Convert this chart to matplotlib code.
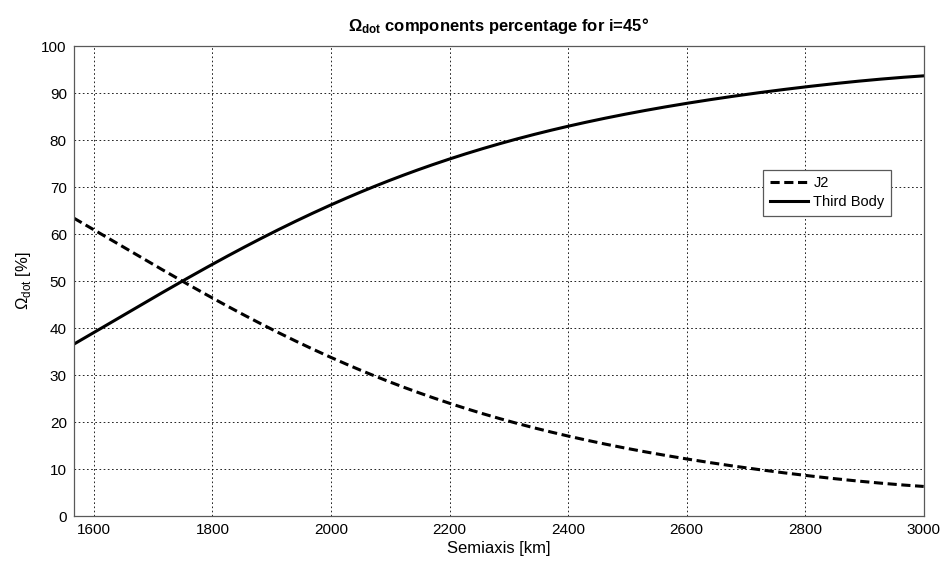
import numpy as np
import matplotlib
matplotlib.use("Agg")
import matplotlib.pyplot as plt

plt.rcParams['font.family'] = ['Liberation Sans', 'DejaVu Sans']
plt.rcParams['mathtext.fontset'] = 'custom'
plt.rcParams['mathtext.rm'] = 'Liberation Sans'
plt.rcParams['mathtext.bf'] = 'Liberation Sans:bold'

# semiaxis [km] and percentage
semiaxis = [1566, 1650, 1700, 1750, 1800, 1900, 2000, 2100, 2200, 2300, 2400,
            2500, 2600, 2700, 2800, 2900, 3000]
third_body = [36.7, 42.6, 46.4, 50.0, 53.6, 60.4, 66.4, 71.4, 75.8, 79.6, 83.0,
              85.7, 87.9, 89.7, 91.2, 92.6, 93.7]
j2 = [100 - v for v in third_body]

x_ticks = [1600, 1800, 2000, 2200, 2400, 2600, 2800, 3000]
y_ticks = list(range(0, 101, 10))

fig = plt.figure(figsize=(9.44, 5.61), dpi=100)
ax = fig.add_axes([0.0781, 0.0797, 0.9004, 0.8383])

# smooth curve through the read points
xs = np.linspace(semiaxis[0], semiaxis[-1], 300)
tb_s = np.polyval(np.polyfit(semiaxis, third_body, 5), xs)
j2_s = np.polyval(np.polyfit(semiaxis, j2, 5), xs)

ax.plot(xs, j2_s, 'k--', lw=2.2, dashes=(3, 1.5), label='J2')
ax.plot(xs, tb_s, 'k-', lw=2.2, label='Third Body')

ax.set_xlim(semiaxis[0], 3000)
ax.set_ylim(0, 100)
ax.set_xticks(x_ticks)
ax.set_yticks(y_ticks)
ax.tick_params(direction='in', labelsize=11, length=0, pad=5)
ax.grid(True, color='black', linestyle=(0, (2, 3)), linewidth=0.6)
for s in ax.spines.values():
    s.set_linewidth(0.9)
    s.set_color('0.35')

ax.set_xlabel('Semiaxis [km]', fontsize=12, labelpad=3)
ax.set_ylabel(r'$\Omega_{\mathrm{dot}}$ [%]', fontsize=12, labelpad=6)
ax.set_title(r'$\mathbf{\Omega_{dot}}$ components percentage for i=45°',
             fontsize=12, fontweight='bold', pad=11)

leg = ax.legend(loc='upper left', bbox_to_anchor=(0.811, 0.737), fontsize=10.5,
                fancybox=False, edgecolor='0.35', framealpha=1,
                handlelength=2.6, borderpad=0.45, labelspacing=0.35,
                handletextpad=0.4, borderaxespad=0)
leg.get_frame().set_linewidth(0.9)

fig.savefig('out.png', dpi=100)
